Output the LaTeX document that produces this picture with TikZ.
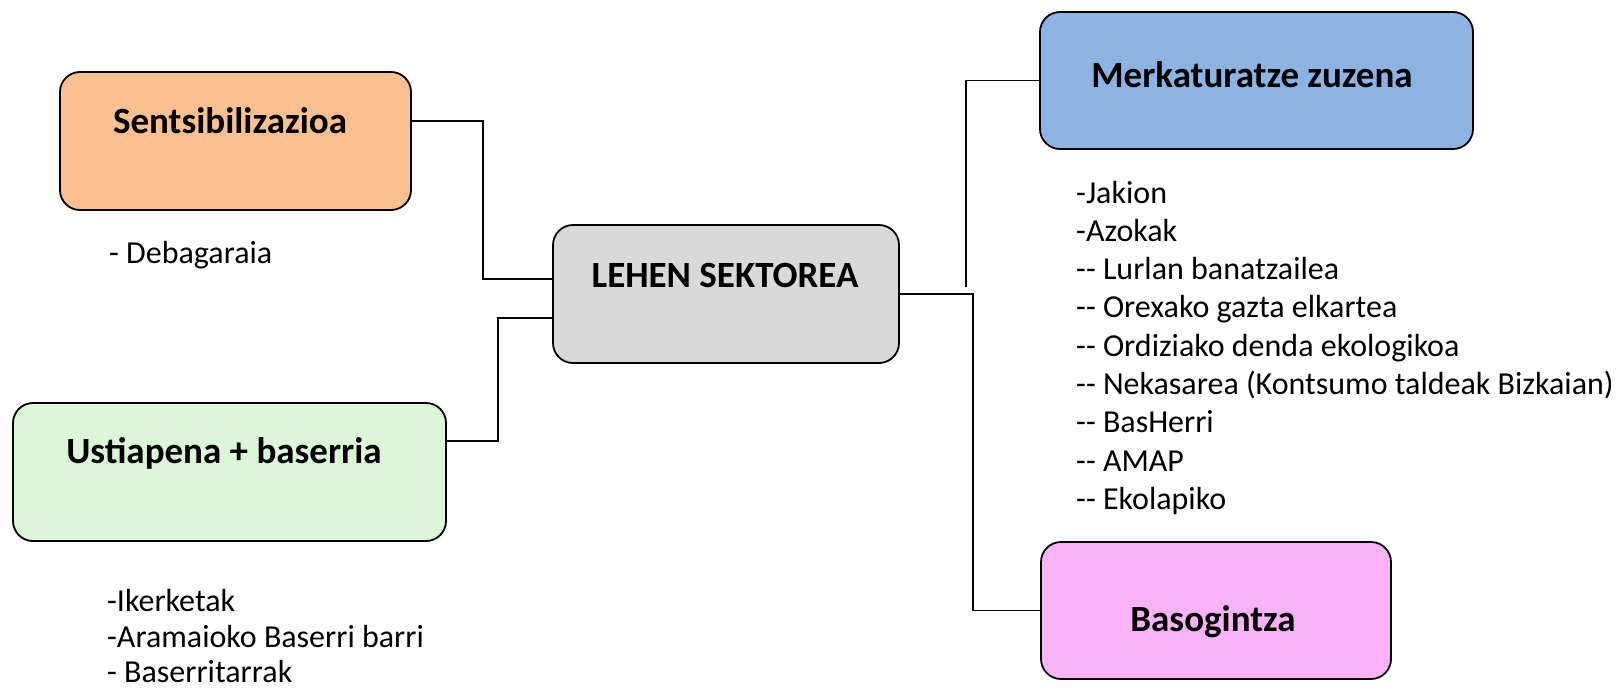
\documentclass[tikz,border=0pt]{standalone}
\usepackage{fontspec}
\setmainfont{Carlito}[Ligatures=TeXOff]
\definecolor{cOrange}{HTML}{FAC090}
\definecolor{cGray}{HTML}{D9D9D9}
\definecolor{cGreen}{HTML}{DCF6D8}
\definecolor{cBlue}{HTML}{8DB3E2}
\definecolor{cPink}{HTML}{F9B3F6}
\tikzset{
  box/.style={draw=black, line width=1.8pt, rounded corners=20pt, inner sep=0pt, anchor=center},
  title/.style={font=\fontsize{37}{44}\selectfont\bfseries, anchor=base, inner sep=0pt},
  item/.style={font=\fontsize{32}{38}\selectfont, anchor=base west, inner sep=0pt},
  link/.style={draw=black, line width=1.5pt}
}
\begin{document}
\begin{tikzpicture}[x=1pt, y=-1pt]
\useasboundingbox (0,0) rectangle (1621,688);
% boxes
\node[box, fill=cOrange, minimum width=351pt, minimum height=138pt] (sens) at (235.5,141) {};
\node[box, fill=cGray, minimum width=346pt, minimum height=138pt] (lehen) at (726,294) {};
\node[box, fill=cGreen, minimum width=433pt, minimum height=138pt] (ust) at (229.5,472) {};
\node[box, fill=cBlue, minimum width=433pt, minimum height=137pt] (merk) at (1256.5,80.5) {};
\node[box, fill=cPink, minimum width=350pt, minimum height=137pt] (baso) at (1216,610.5) {};
% titles
\node[title] (tsens) at (230,133) {Sentsibilizazioa};
\node[title] (tlehen) at (725,287) {LEHEN SEKTOREA};
\node[title] (tust) at (224,463) {Ustiapena + baserria};
\node[title] (tmerk) at (1252,87) {Merkaturatze zuzena};
\node[title] (tbaso) at (1213,631) {Basogintza};
% connectors
\coordinate (mfree) at (966,287);
\draw[link] ([yshift=20pt]sens.east) -- ++(71,0) |- ([yshift=15pt]lehen.west);
\draw[link] ([yshift=-24pt]lehen.west) -- ++(-54,0) |- ([yshift=31pt]ust.east);
\draw[link] (mfree) |- (merk.west);
\draw[link] (lehen.east) -- ++(73,0) |- (baso.west);
% lists
\node[item] (d1) at (109,263) {- Debagaraia};
\node[item] (u1) at (107,611) {-Ikerketak};
\node[item] (u2) at (107,647) {-Aramaioko Baserri barri};
\node[item] (u3) at (107,682) {- Baserritarrak};
\foreach \t [count=\i] in {-Jakion, -Azokak, -- Lurlan banatzailea, -- Orexako gazta elkartea, -- Ordiziako denda ekologikoa, -- Nekasarea (Kontsumo taldeak Bizkaian), -- BasHerri, -- AMAP, -- Ekolapiko}
  \node[item] (m\i) at (1076,{203+38.3*(\i-1)}) {\t};
\end{tikzpicture}
\end{document}
